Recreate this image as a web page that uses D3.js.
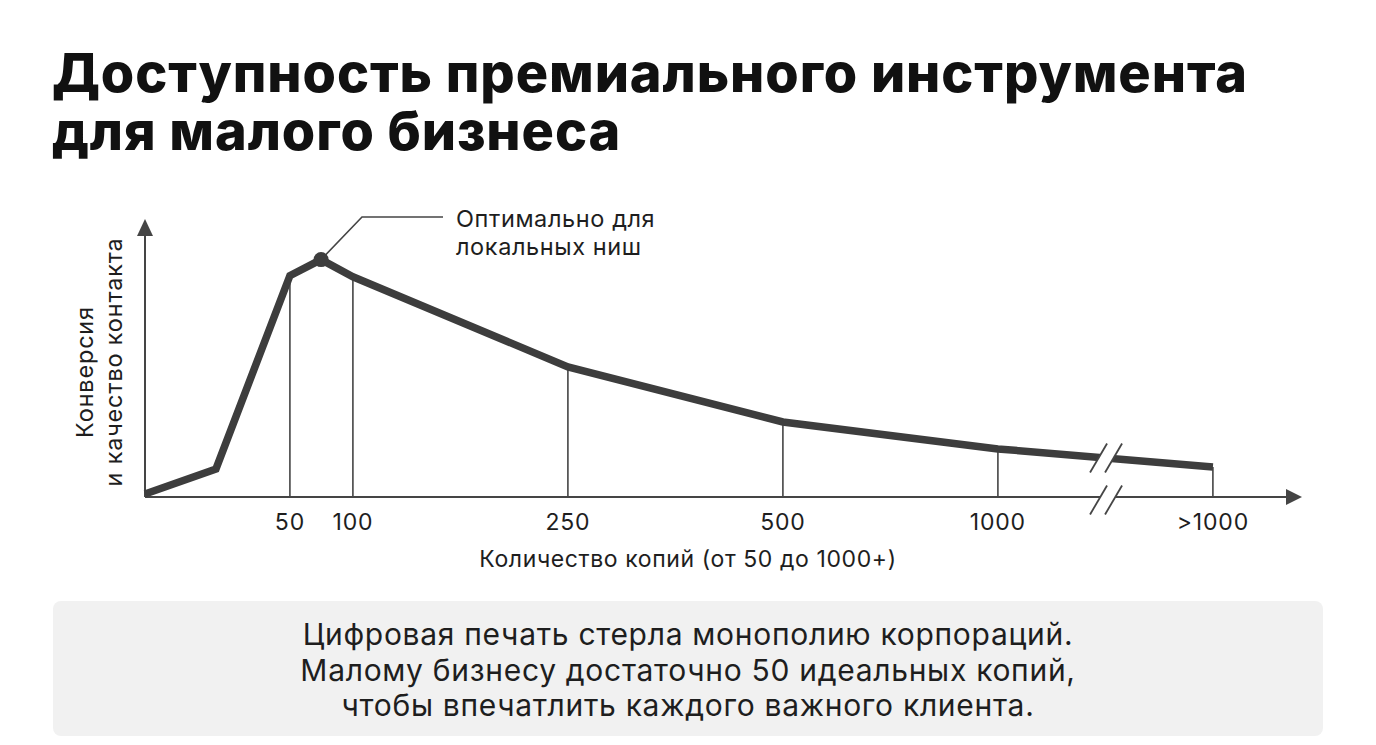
<!DOCTYPE html>
<html>
<head>
<meta charset="utf-8">
<script src="https://cdn.jsdelivr.net/npm/d3@7"></script>
<style>
	html, body { margin: 0; padding: 0; background: #ffffff; }
	svg { display: block; font-family: "Inter", "Noto Sans", sans-serif; }
</style>
</head>
<body>
<svg id="chart" width="1376" height="745"></svg>
<script>
// ==================== DATA ====================
// x position along the axis (slot units, 1 slot = one step between ticks)
const curvePos = [0, 0.33, 0.674, 0.819, 0.967, 1.967, 2.967, 3.967, 4.967];
// conversion / contact quality, relative 0..100
const curveVal = [1.1, 10.1, 79.6, 85.4, 79.2, 46.8, 27.0, 17.3, 10.8];

const tickPos = [0.674, 0.967, 1.967, 2.967, 3.967, 4.967];
const tickLabels = ["50", "100", "250", "500", "1000", ">1000"];
const tickVal = [79.6, 79.2, 46.8, 27.0, 17.3, 10.8];

const peakIndex = 3;
const breakPos = 4.47;

const titleLines = ["Доступность премиального инструмента", "для малого бизнеса"];
const yTitleLines = ["Конверсия", "и качество контакта"];
const xTitle = "Количество копий (от 50 до 1000+)";
const noteLines = ["Оптимально для", "локальных ниш"];
const captionLines = [
	"Цифровая печать стерла монополию корпораций.",
	"Малому бизнесу достаточно 50 идеальных копий,",
	"чтобы впечатлить каждого важного клиента.",
];

// ==================== CHART ====================
const svg = d3.select("svg#chart");
const ink = "#3d3d3d";
const axisInk = "#454545";
const textInk = "#1e1e1e";

const x = d3.scaleLinear().domain([0, 5]).range([145, 1220]);
const y = d3.scaleLinear().domain([0, 100]).range([497, 219]);
const x0 = x(0), y0 = y(0);
const xEnd = 1302, yTop = 219;

// title, one text block with a tspan per line
svg.append("text")
	.attr("font-size", 54)
	.attr("font-weight", 800)
	.attr("letter-spacing", 0.9)
	.attr("fill", "#111")
	.selectAll("tspan")
	.data(titleLines)
	.join("tspan")
	.attr("x", 52)
	.attr("y", (d, i) => 92 + i * 58)
	.text((d) => d);

// drop lines from curve to axis
svg.append("g")
	.selectAll("line")
	.data(tickPos)
	.join("line")
	.attr("x1", (d) => x(d))
	.attr("x2", (d) => x(d))
	.attr("y1", y0)
	.attr("y2", (d, i) => y(tickVal[i]))
	.attr("stroke", axisInk)
	.attr("stroke-width", 1.6);

// axes
svg.append("line")
	.attr("x1", x0).attr("x2", xEnd - 14)
	.attr("y1", y0).attr("y2", y0)
	.attr("stroke", axisInk).attr("stroke-width", 2);
svg.append("line")
	.attr("x1", x0).attr("x2", x0)
	.attr("y1", y0).attr("y2", yTop + 14)
	.attr("stroke", axisInk).attr("stroke-width", 2);

svg.append("path")
	.attr("d", `M${xEnd},${y0} L${xEnd - 16},${y0 - 8} L${xEnd - 16},${y0 + 8} Z`)
	.attr("fill", axisInk);
svg.append("path")
	.attr("d", `M${x0},${yTop} L${x0 - 8},${yTop + 17} L${x0 + 8},${yTop + 17} Z`)
	.attr("fill", axisInk);

// the curve
const pts = curvePos.map((p, i) => [p, curveVal[i]]);
svg.append("path")
	.datum(pts)
	.attr("fill", "none")
	.attr("stroke", ink)
	.attr("stroke-width", 7.5)
	.attr("stroke-linejoin", "miter")
	.attr(
		"d",
		d3.line()
			.x((d) => x(d[0]))
			.y((d) => y(d[1]))
	);

// break marks "//" on curve and on axis
const interp = d3.scaleLinear().domain([curvePos[7], curvePos[8]]).range([curveVal[7], curveVal[8]]);
const bx = x(breakPos);
const breakYs = [y(interp(breakPos)), y0 + 3];
breakYs.forEach((cy) => {
	const gap = 15, dx = 8.5, dy = 14.5;
	const a = bx - gap / 2, b = bx + gap / 2;
	svg.append("path")
		.attr("d", `M${a - dx * 0.55},${cy + dy * 0.55} L${a + dx * 0.55},${cy - dy * 0.55} L${b + dx * 0.55},${cy - dy * 0.55} L${b - dx * 0.55},${cy + dy * 0.55} Z`)
		.attr("fill", "#ffffff");
	[a, b].forEach((cx) => {
		svg.append("line")
			.attr("x1", cx - dx).attr("y1", cy + dy)
			.attr("x2", cx + dx).attr("y2", cy - dy)
			.attr("stroke", axisInk).attr("stroke-width", 1.8);
	});
});

// peak marker + callout
const px = x(curvePos[peakIndex]), py = y(curveVal[peakIndex]);
svg.append("polyline")
	.attr("points", `${px},${py} 362,217 443,217`)
	.attr("fill", "none")
	.attr("stroke", axisInk)
	.attr("stroke-width", 1.6);
svg.append("circle")
	.attr("cx", px).attr("cy", py).attr("r", 7.5)
	.attr("fill", ink);

svg.append("g")
	.selectAll("text")
	.data(noteLines)
	.join("text")
	.attr("x", 456)
	.attr("y", (d, i) => 227 + i * 28)
	.attr("font-size", 23.5)
	.attr("letter-spacing", 0.6)
	.attr("fill", textInk)
	.text((d) => d);

// tick labels
svg.append("g")
	.selectAll("text")
	.data(tickLabels)
	.join("text")
	.attr("x", (d, i) => x(tickPos[i]))
	.attr("y", 530)
	.attr("text-anchor", "middle")
	.attr("font-size", 23)
	.attr("letter-spacing", 0.8)
	.attr("fill", textInk)
	.text((d) => d);

// x axis title
svg.append("text")
	.attr("x", 688)
	.attr("y", 567)
	.attr("text-anchor", "middle")
	.attr("font-size", 23)
	.attr("letter-spacing", 0.6)
	.attr("fill", textInk)
	.text(xTitle);

// y axis title (rotated)
const yTitleX = [93, 122];
const yTitleMid = [372, 362];
svg.append("g")
	.selectAll("text")
	.data(yTitleLines)
	.join("text")
	.attr("transform", (d, i) => `translate(${yTitleX[i]},${yTitleMid[i]}) rotate(-90)`)
	.attr("text-anchor", "middle")
	.attr("font-size", 23.5)
	.attr("letter-spacing", 0.8)
	.attr("fill", textInk)
	.text((d) => d);

// caption box
svg.append("rect")
	.attr("x", 53).attr("y", 601)
	.attr("width", 1270).attr("height", 135)
	.attr("rx", 8)
	.attr("fill", "#f1f1f1");

svg.append("g")
	.selectAll("text")
	.data(captionLines)
	.join("text")
	.attr("x", 688)
	.attr("y", (d, i) => 645 + i * 35.5)
	.attr("text-anchor", "middle")
	.attr("font-size", 30)
	.attr("letter-spacing", 0.7)
	.attr("fill", textInk)
	.text((d) => d);
</script>
</body>
</html>
